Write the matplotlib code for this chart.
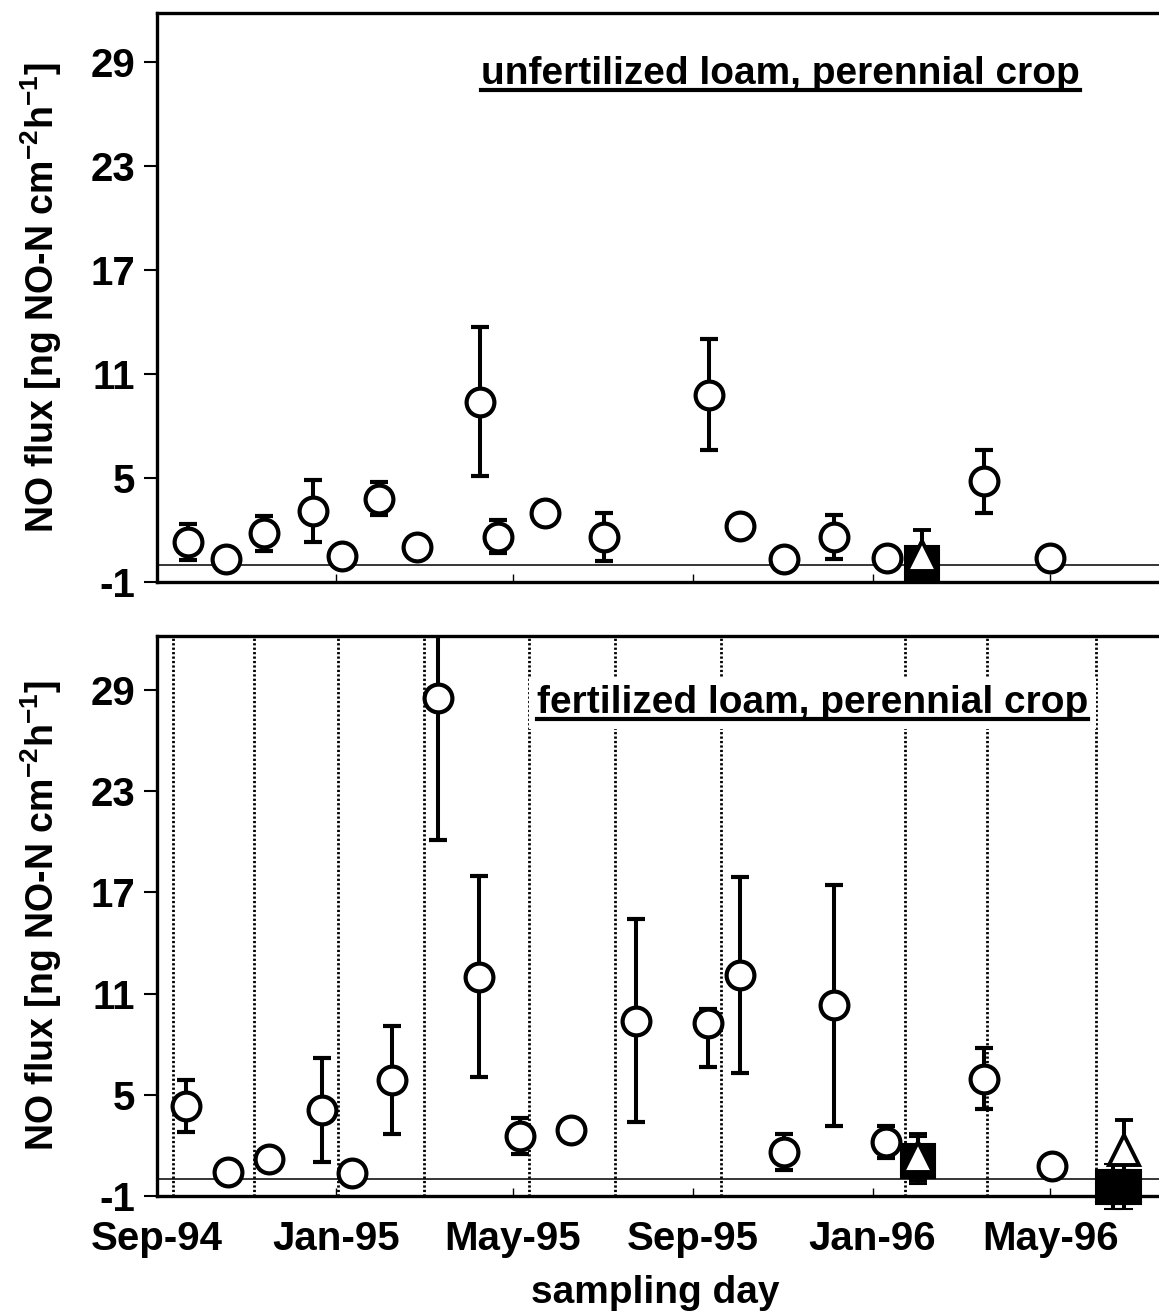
"""NO flux from loam under perennial crop, unfertilized vs fertilized plots."""

import matplotlib
matplotlib.use("Agg")
import matplotlib.pyplot as plt
import matplotlib.dates as mdates
from matplotlib.lines import Line2D
import numpy as np

plt.rcParams.update({
    "font.family": ["Liberation Sans", "DejaVu Sans"],
    "font.weight": "bold",
    "axes.labelweight": "bold",
    "axes.unicode_minus": False,
    "mathtext.default": "regular",
})

# --- unfertilized plot -------------------------------------------------------
unf_dates = np.array(["1994-09-22", "1994-10-18", "1994-11-13", "1994-12-16", "1995-01-05",
                      "1995-01-30", "1995-02-25", "1995-04-09", "1995-04-21", "1995-05-23",
                      "1995-07-02", "1995-09-12", "1995-10-03", "1995-11-02", "1995-12-06",
                      "1996-01-11", "1996-03-17", "1996-05-01"], dtype="datetime64[D]")
unf_flux = [1.3, 0.3, 1.8, 3.1, 0.5, 3.8, 1.0, 9.4, 1.6, 3.0,
            1.6, 9.8, 2.2, 0.3, 1.6, 0.4, 4.8, 0.4]
unf_err_lo = [1.05, 0, 1.0, 1.8, 0, 0.95, 0, 4.3, 0.95, 0,
              1.4, 3.2, 0, 0, 1.25, 0, 1.8, 0]
unf_err_hi = unf_err_lo

unf_sq_dates = np.array(["1996-02-04"], dtype="datetime64[D]")
unf_sq_flux = [0.1]
unf_sq_err = [0.0]
unf_tri_dates = np.array(["1996-02-04"], dtype="datetime64[D]")
unf_tri_flux = [0.5]
unf_tri_err = [1.5]

# --- fertilized plot ---------------------------------------------------------
fer_dates = np.array(["1994-09-21", "1994-10-19", "1994-11-16", "1994-12-22", "1995-01-12",
                      "1995-02-08", "1995-03-11", "1995-04-08", "1995-05-06", "1995-06-10",
                      "1995-07-24", "1995-09-11", "1995-10-03", "1995-11-02", "1995-12-06",
                      "1996-01-10", "1996-03-17", "1996-05-02"], dtype="datetime64[D]")
fer_flux = [4.35, 0.45, 1.2, 4.1, 0.35, 5.9, 28.5, 12.0, 2.55, 2.9,
            9.4, 9.25, 12.1, 1.6, 10.3, 2.2, 5.95, 0.75]
fer_err_lo = [1.55, 0, 0, 3.1, 0, 3.2, 8.4, 5.95, 1.05, 0,
              6.0, 2.6, 5.8, 1.05, 7.15, 0.97, 1.8, 0]
fer_err_hi = [1.55, 0, 0, 3.1, 0, 3.2, 8.4, 5.95, 1.05, 0,
              6.0, 0.85, 5.8, 1.05, 7.15, 0.97, 1.8, 0]

fer_sq_dates = np.array(["1996-02-01", "1996-06-13", "1996-06-20"], dtype="datetime64[D]")
fer_sq_flux = [1.1, -0.45, -0.45]
fer_sq_err = [1.4, 1.35, 1.35]
fer_tri_dates = np.array(["1996-02-01", "1996-06-20"], dtype="datetime64[D]")
fer_tri_flux = [1.3, 1.75]
fer_tri_err = [1.4, 1.75]

# fertilizer application days (dotted markers, fertilized plot only)
fert_days = np.array(["1994-09-12", "1994-11-06", "1995-01-02", "1995-03-02", "1995-05-12",
                      "1995-07-10", "1995-09-20", "1996-01-23", "1996-03-19", "1996-06-01"],
                     dtype="datetime64[D]")

yticks = [-1, 5, 11, 17, 23, 29]
W, H = 1159, 1313
bar_kw = dict(ecolor="k", elinewidth=2.9, capsize=6.5, capthick=3.4)


def no_clip(container):
    data_line, caps, bars = container.lines
    for a in [data_line, *caps, *bars]:
        a.set_clip_on(False)


def panel(ax, dates, flux, lo, hi, sq, tri, ymax):
    ax.axhline(0, color="k", lw=1.1, zorder=1)
    ax.errorbar(dates, flux, yerr=[lo, hi], fmt="o", ms=20, mfc="white", mec="k", mew=3.0,
                zorder=3, **bar_kw)
    eb = ax.errorbar(sq[0], sq[1], yerr=sq[2], fmt="s", ms=24, mfc="k", mec="k", mew=1.5,
                     zorder=4, **bar_kw)
    no_clip(eb)
    eb = ax.errorbar(tri[0], tri[1], yerr=tri[2], fmt="^", ms=22, mfc="white", mec="k", mew=2.8,
                     zorder=5, **bar_kw)
    no_clip(eb)

    ax.set_xlim(np.datetime64("1994-09-01"), np.datetime64("1996-07-14"))
    ax.set_ylim(-1, ymax)
    ax.set_yticks(yticks)
    ax.xaxis.set_major_locator(mdates.MonthLocator(bymonth=[1, 5, 9]))
    ax.xaxis.set_major_formatter(mdates.DateFormatter("%b-%y"))
    ax.tick_params(axis="y", direction="out", length=9.5, width=1.5, labelsize=29, pad=6)
    ax.tick_params(axis="x", direction="in", length=6, width=1, labelsize=29, pad=17)
    for s in ("left", "top", "bottom"):
        ax.spines[s].set_linewidth(2.4)
    ax.spines["right"].set_visible(False)
    ax.set_ylabel("NO flux [ng NO-N cm$^{-2}$h$^{-1}$]", fontsize=27, fontweight="bold")
    ax.yaxis.set_label_coords(-0.093, 0.5)


fig = plt.figure(figsize=(W / 100, H / 100), dpi=100)
ax1 = fig.add_axes([157 / W, 1 - 582 / H, 1 - 157 / W, (582 - 13) / H])
ax2 = fig.add_axes([157 / W, 1 - 1196 / H, 1 - 157 / W, (1196 - 636) / H])

panel(ax1, unf_dates, unf_flux, unf_err_lo, unf_err_hi,
      (unf_sq_dates, unf_sq_flux, unf_sq_err), (unf_tri_dates, unf_tri_flux, unf_tri_err), 31.8)
panel(ax2, fer_dates, fer_flux, fer_err_lo, fer_err_hi,
      (fer_sq_dates, fer_sq_flux, fer_sq_err), (fer_tri_dates, fer_tri_flux, fer_tri_err), 32.2)
ax1.tick_params(axis="x", labelbottom=False)

for d in fert_days:
    ax2.axvline(d, color="k", lw=2, ls=(0, (0.8, 0.8)), zorder=0.5)

t1 = ax1.text(0.622, 0.875, "unfertilized loam, perennial crop", transform=ax1.transAxes,
              fontsize=28, ha="center", va="baseline", zorder=6)
t2 = ax2.text(0.654, 0.8625, "fertilized loam, perennial crop", transform=ax2.transAxes,
              fontsize=28, ha="center", va="baseline", zorder=6,
              bbox=dict(facecolor="white", edgecolor="none", pad=6))

fig.text(655 / W, 1 - 1293 / H, "sampling day", fontsize=28, ha="center", va="center")

# underline the panel titles
fig.canvas.draw()
renderer = fig.canvas.get_renderer()
for ax, t in ((ax1, t1), (ax2, t2)):
    bb = t.get_window_extent(renderer)
    y_base = ax.transAxes.transform(t.get_position())[1] - 6
    fig.add_artist(Line2D([bb.x0 / W, bb.x1 / W], [y_base / H, y_base / H],
                          transform=fig.transFigure, color="k", lw=3, zorder=7))

fig.savefig("out.png", dpi=100)
